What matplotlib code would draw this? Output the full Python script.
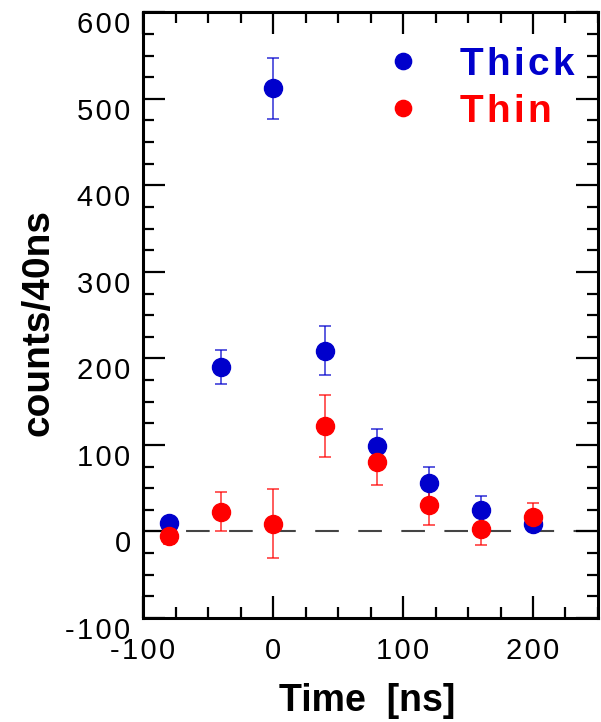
import numpy as np
import matplotlib.pyplot as plt
from matplotlib.ticker import MultipleLocator, FuncFormatter
from matplotlib.transforms import ScaledTranslation

plt.rcParams['font.family'] = ['Liberation Sans', 'DejaVu Sans']
plt.rcParams['lines.scale_dashes'] = False
plt.rcParams['axes.unicode_minus'] = False

# Daten
t = [-80, -40, 0, 40, 80, 120, 160, 200]
thick = [10, 190, 512, 209, 99, 56, 25, 9]
thick_err = [5, 20, 35, 28, 20, 18, 16, 8]
thin = [-5, 23, 9, 122, 80, 31, 3, 17]
thin_err = [10, 23, 40, 36, 26, 24, 19, 16]
baseline = 0

blue = '#0000cc'
red = '#ff0000'

fig = plt.figure(figsize=(6.01, 7.22), dpi=100)
ax = fig.add_axes([0.238, 0.144, 0.757, 0.839])

ax.axhline(baseline, color='#444444', lw=1.5, dashes=(17, 14), zorder=1)

for y, e, c, lab in [(thick, thick_err, blue, 'Thick'), (thin, thin_err, red, 'Thin')]:
    eb = ax.errorbar(t, y, yerr=e, fmt='o', color=c, ms=13, mec=c,
                     ecolor=c, elinewidth=1.2, capsize=4.5, capthick=1.2,
                     label=lab, zorder=3)
    for art in eb[1] + eb[2]:
        art.set_alpha(0.75)

# gesperrte Ziffern
spaced = FuncFormatter(lambda v, pos: '\u200a'.join('%d' % v))

ax.set_xlim(-100, 250)
ax.set_ylim(-100, 600)
ax.xaxis.set_major_locator(MultipleLocator(100))
ax.xaxis.set_minor_locator(MultipleLocator(25))
ax.yaxis.set_major_locator(MultipleLocator(100))
ax.yaxis.set_minor_locator(MultipleLocator(25))
ax.xaxis.set_major_formatter(spaced)
ax.yaxis.set_major_formatter(spaced)
ax.tick_params(which='both', direction='in', top=True, right=True, width=1.6)
ax.tick_params(which='major', length=16, labelsize=21)
ax.tick_params(which='minor', length=8)
ax.tick_params(axis='x', pad=14)
ax.tick_params(axis='y', pad=9)
for s in ax.spines.values():
    s.set_linewidth(2.2)

# y-Beschriftungen etwas nach unten versetzt
off = ScaledTranslation(0, -0.10, fig.dpi_scale_trans)
for lbl in ax.get_yticklabels():
    lbl.set_transform(lbl.get_transform() + off)

ax.set_xlabel('Time  [ns]', fontsize=27, fontweight='bold')
ax.set_ylabel('counts/40ns', fontsize=28, fontweight='bold')
ax.xaxis.set_label_coords(0.492, -0.107)
ax.yaxis.set_label_coords(-0.19, 0.488)

h, l = ax.get_legend_handles_labels()
h = [hh[0] for hh in h]
l = ['\u200a'.join(s) for s in l]  # gesperrte Schrift
leg = ax.legend(h, l, loc='upper left', bbox_to_anchor=(0.529, 0.943),
                frameon=False, prop={'weight': 'bold', 'size': 28},
                handlelength=1.0, handletextpad=0.96, labelspacing=0.28,
                borderpad=0, borderaxespad=0, markerscale=0.9)
for txt, c in zip(leg.get_texts(), [blue, red]):
    txt.set_color(c)

fig.savefig('out.png', dpi=100)
